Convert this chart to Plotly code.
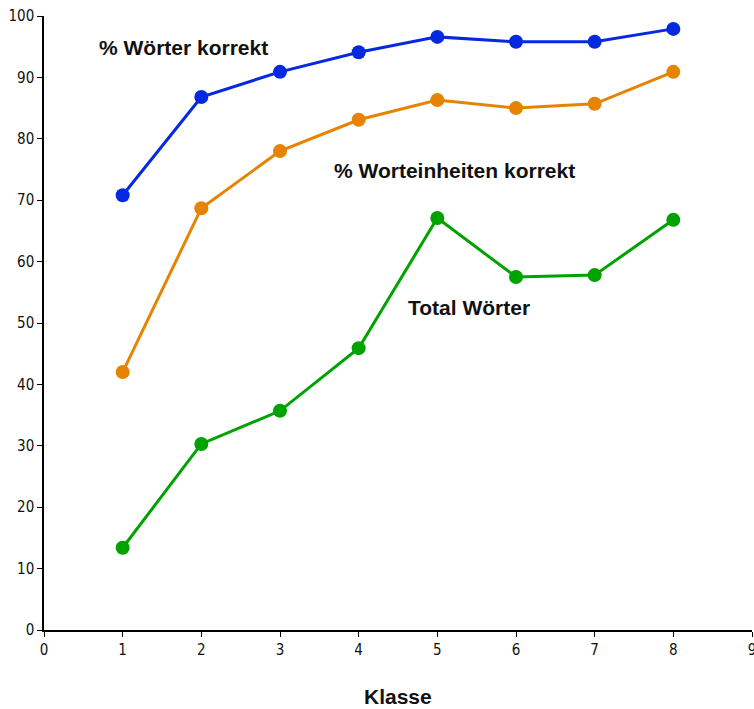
import plotly.graph_objects as go

klasse = [1, 2, 3, 4, 5, 6, 7, 8]
woerter_korrekt = [70.8, 86.8, 90.9, 94.1, 96.6, 95.8, 95.8, 97.9]
worteinheiten_korrekt = [42.0, 68.7, 78.0, 83.1, 86.3, 85.0, 85.7, 90.9]
total_woerter = [13.4, 30.3, 35.7, 45.9, 67.1, 57.5, 57.8, 66.8]

x_ticks = list(range(0, 10))
y_ticks = list(range(0, 101, 10))

series = [
    ("% Wörter korrekt", woerter_korrekt, "#0529e0"),
    ("% Worteinheiten korrekt", worteinheiten_korrekt, "#e68300"),
    ("Total Wörter", total_woerter, "#00a200"),
]

fig = go.Figure()
for name, vals, col in series:
    fig.add_trace(go.Scatter(
        x=klasse, y=vals, mode="lines+markers", name=name,
        line=dict(color=col, width=3),
        marker=dict(color=col, size=14),
        showlegend=False,
    ))

label_font = dict(family="Century Gothic, URW Gothic, Liberation Sans, Arial", size=21, color="#111111")
annots = [
    ("<b>% Wörter korrekt</b>", 1.77, 94.9),
    ("<b>% Worteinheiten korrekt</b>", 5.22, 74.9),
    ("<b>Total Wörter</b>", 5.4, 52.5),
]
for text, ax, ay in annots:
    fig.add_annotation(x=ax, y=ay, text=text, showarrow=False, font=label_font,
                       xanchor="center", yanchor="middle")

fig.add_annotation(x=0.5, y=-0.108, xref="paper", yref="paper", text="<b>Klasse</b>",
                   showarrow=False, font=label_font, xanchor="center", yanchor="middle")

tick_font = dict(family="Liberation Sans Narrow, DejaVu Sans Condensed, Arial Narrow", size=15, color="#111111")
fig.update_xaxes(
    range=[0, 9], tickvals=x_ticks, ticktext=[str(t) for t in x_ticks],
    showgrid=False, zeroline=False, showline=True, linecolor="black", linewidth=1.5,
    ticks="outside", ticklen=5, tickcolor="black", tickfont=tick_font, automargin=False,
    ticklabeloverflow="allow",
)
fig.update_yaxes(
    range=[0, 100], tickvals=y_ticks, ticktext=[str(t) for t in y_ticks],
    showgrid=False, zeroline=False, showline=True, linecolor="black", linewidth=1.5,
    ticks="outside", ticklen=5, tickcolor="black", tickfont=tick_font, automargin=False,
    ticklabeloverflow="allow",
)
fig.update_layout(
    width=754, height=709,
    margin=dict(l=44, r=2, t=16, b=79),
    plot_bgcolor="white", paper_bgcolor="white",
)
fig.write_html("out.html", config={"displayModeBar": False},
               post_script="document.body.style.margin='0';document.body.style.overflow='hidden';")
